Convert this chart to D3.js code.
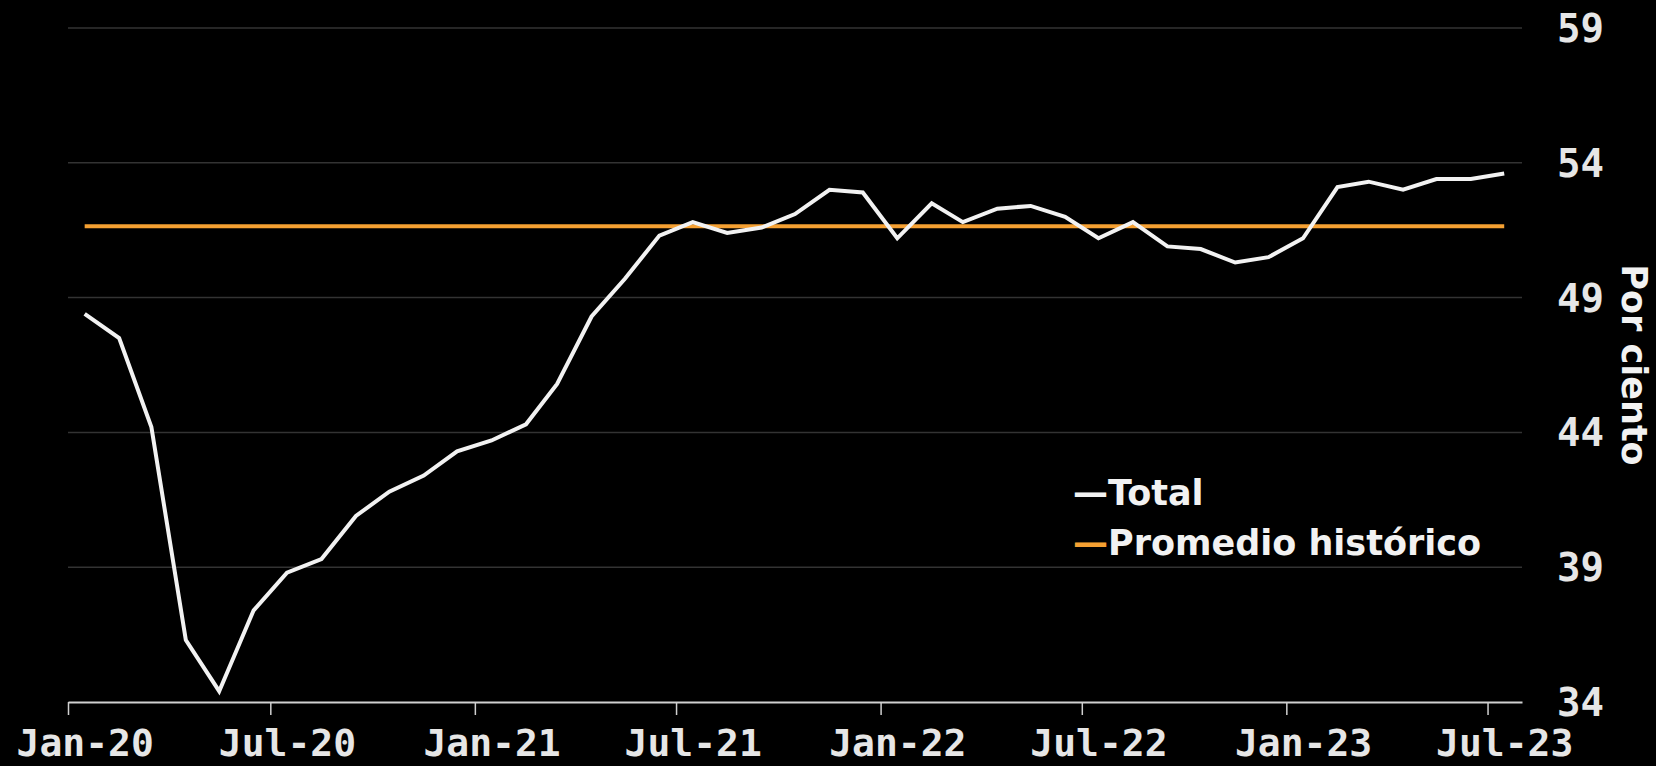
<!DOCTYPE html>
<html lang='es'>
<head>
	<meta charset='UTF-8'>
	<title>Por ciento</title>
	<style>
		html, body { margin: 0; padding: 0; background: #000; }
		svg { display: block; }
	</style>
</head>
<body>

<svg></svg>

<script src='https://d3js.org/d3.v7.min.js'></script>
<script>
// monthly readings, Jan-20 .. Jul-23
const months = [
    '2020-01', '2020-02', '2020-03', '2020-04', '2020-05', '2020-06', '2020-07', '2020-08', '2020-09', '2020-10', '2020-11', '2020-12',
    '2021-01', '2021-02', '2021-03', '2021-04', '2021-05', '2021-06', '2021-07', '2021-08', '2021-09', '2021-10', '2021-11', '2021-12',
    '2022-01', '2022-02', '2022-03', '2022-04', '2022-05', '2022-06', '2022-07', '2022-08', '2022-09', '2022-10', '2022-11', '2022-12',
    '2023-01', '2023-02', '2023-03', '2023-04', '2023-05', '2023-06', '2023-07'
]
const total = [
    48.4, 47.5, 44.2, 36.3, 34.4, 37.4, 38.8, 39.3, 40.9, 41.8, 42.4, 43.3,
    43.7, 44.3, 45.8, 48.3, 49.7, 51.3, 51.8, 51.4, 51.6, 52.1, 53.0, 52.9,
    51.2, 52.5, 51.8, 52.3, 52.4, 52.0, 51.2, 51.8, 50.9, 50.8, 50.3, 50.5,
    51.2, 53.1, 53.3, 53.0, 53.4, 53.4, 53.6
]
const historicAvg = 51.65

const yTicks = [34, 39, 44, 49, 54, 59]
const legendLabels = ['Total', 'Promedio histórico']
const axisTitle = 'Por ciento'

const width = 1656
const height = 766
const white = '#f2f2f2'
const orange = '#f5a032'

const parseMonth = d3.timeParse('%Y-%m')
// points sit in the middle of their month
const mid = d => d3.timeDay.offset(d, 15)

const data = months.map((m, i) => ({ date: parseMonth(m), value: total[i] }))

const x = d3.scaleTime()
    .domain([parseMonth('2020-01'), parseMonth('2023-08')])
    .range([68, 1522])

const y = d3.scaleLinear()
    .domain([34, 59])
    .range([702, 28])

const svg = d3.select('svg')
    .attr('width', width)
    .attr('height', height)
    .style('background', '#000')

// grid
svg.append('g')
    .selectAll('line')
    .data(yTicks.filter(t => t !== 34))
    .join('line')
    .attr('x1', x.range()[0])
    .attr('x2', x.range()[1])
    .attr('y1', d => y(d))
    .attr('y2', d => y(d))
    .attr('stroke', '#333')
    .attr('stroke-width', 1.5)

// y labels on the right
svg.append('g')
    .selectAll('text')
    .data(yTicks)
    .join('text')
    .attr('x', 1557)
    .attr('y', d => y(d))
    .attr('dy', '0.36em')
    .attr('fill', '#e6e6e6')
    .style('font', 'bold 39px "DejaVu Sans Mono"')
    .text(d => d)

svg.append('text')
    .attr('transform', `translate(1622,365) rotate(90)`)
    .attr('text-anchor', 'middle')
    .attr('fill', white)
    .style('font', 'bold 35px "DejaVu Sans"')
    .text(axisTitle)

// x axis
const xAxis = svg.append('g')
    .attr('transform', `translate(0,${y(34)})`)
    .call(d3.axisBottom(x)
        .ticks(d3.timeMonth.every(6))
        .tickFormat(d3.timeFormat('%b-%y'))
        .tickSize(13)
        .tickSizeOuter(0))

xAxis.select('.domain').attr('stroke', '#d0d0d0').attr('stroke-width', 2)
xAxis.selectAll('.tick line').attr('stroke', '#d0d0d0').attr('stroke-width', 1.5)
xAxis.selectAll('.tick text')
    .attr('x', d => x(mid(d)) - x(d))
    .attr('y', 54)
    .attr('dy', 0)
    .attr('fill', '#e6e6e6')
    .style('font', 'bold 38px "DejaVu Sans Mono"')

// historic average
svg.append('line')
    .attr('x1', x(mid(data[0].date)))
    .attr('x2', x(mid(data[data.length - 1].date)))
    .attr('y1', y(historicAvg))
    .attr('y2', y(historicAvg))
    .attr('stroke', orange)
    .attr('stroke-width', 4)

const line = d3.line()
    .x(d => x(mid(d.date)))
    .y(d => y(d.value))

svg.append('path')
    .datum(data)
    .attr('fill', 'none')
    .attr('stroke', white)
    .attr('stroke-width', 4)
    .attr('stroke-linejoin', 'miter')
    .attr('d', line)

// legend
const legend = svg.append('g')
    .attr('transform', 'translate(1073,505)')

legend.selectAll('text')
    .data(legendLabels)
    .join('text')
    .attr('y', (d, i) => i * 50)
    .style('font', 'bold 35px "DejaVu Sans"')
    .each(function (d, i) {
        const t = d3.select(this)
        t.append('tspan').attr('fill', i === 0 ? white : orange).text('\u2014')
        t.append('tspan').attr('fill', white).text(d)
    })
</script>
</body>
</html>
